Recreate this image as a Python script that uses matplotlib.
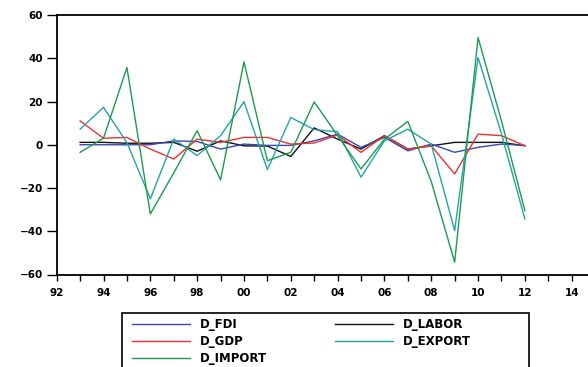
import matplotlib
matplotlib.use("Agg")
import matplotlib.pyplot as plt
from matplotlib.ticker import MultipleLocator, FuncFormatter
from matplotlib.patches import Rectangle

years = list(range(1993, 2013))
d_fdi = [0, 0, 0, 0, 1.8, 1.5, -2, 0.3, -0.3, -0.3, 1.8, 4.9, -1.2, 3.4, -2.8, 0.3, -3.5, -1.2, 0.3, -0.3]
d_labor = [1.1, 1.1, 0.7, 0.7, 1.1, -3.0, 1.8, -0.5, -0.6, -5.4, 7.8, 2.6, -2.0, 4.2, -2.0, -0.5, 1.1, 1.1, 1.1, -0.5]
d_gdp = [11, 3, 3.4, -2, -6.6, 2.6, 1.1, 3.4, 3.4, 0.3, 0.8, 4.5, -3.5, 4.2, -2, -0.5, -13.5, 4.9, 4.2, -0.5]
d_export = [7.2, 17.3, 1, -25, 2.6, -5, 4.2, 19.9, -11.5, 12.6, 7, 6, -15, 1.8, 7.2, 0.3, -39.7, 40.4, 5, -34.3]
d_import = [-3.5, 3, 35.7, -32, -13, 6.5, -16.2, 38.3, -7.4, -3.5, 19.8, 4.2, -11.2, 2.6, 10.8, -17, -54.3, 49.6, 11, -30.5]

series = [
    ("D_FDI", d_fdi, "#3848b0"),
    ("D_GDP", d_gdp, "#f03030"),
    ("D_IMPORT", d_import, "#1c9c4c"),
    ("D_LABOR", d_labor, "#101010"),
    ("D_EXPORT", d_export, "#22a4a8"),
]

W, H = 588, 367
fig = plt.figure(figsize=(W / 100, H / 100), dpi=100)
left_px, top_px, bottom_px = 56.7, 15, 274.5
right_px = 600
ax = fig.add_axes([left_px / W, 1 - bottom_px / H, (right_px - left_px) / W, (bottom_px - top_px) / H])

draw_order = ["D_LABOR", "D_FDI", "D_GDP", "D_EXPORT", "D_IMPORT"]
handles = {}
for name, vals, col in series:
    ln, = ax.plot(years, vals, color=col, lw=1.0, label=name,
                  zorder=3 + draw_order.index(name))
    handles[name] = ln

year_px = (571.7 - 56.7) / 22
ax.set_xlim(1992, 1992 + (right_px - left_px) / year_px)
ax.set_ylim(-60, 60)

ax.xaxis.set_major_locator(MultipleLocator(2))
ax.xaxis.set_minor_locator(MultipleLocator(1))
ax.xaxis.set_major_formatter(FuncFormatter(lambda v, p: f"{int(round(v)) % 100:02d}"))
ax.yaxis.set_major_locator(MultipleLocator(20))

ax.spines["right"].set_visible(False)
for s in ["left", "bottom", "top"]:
    ax.spines[s].set_linewidth(1.3)

ax.tick_params(axis="x", which="both", direction="out", length=4, width=1, pad=6,
               labelsize=7.5)
ax.tick_params(axis="y", direction="out", length=7, width=1, pad=3, labelsize=7.5)
for lab in ax.get_xticklabels() + ax.get_yticklabels():
    lab.set_fontweight("bold")

# legend
fs = 8.5
fs_px = fs * 100 / 72
renderer = fig.canvas.get_renderer()
t = fig.text(0, 0, "D_IMPORT", fontsize=fs, fontweight="bold")
tw = t.get_window_extent(renderer).width
t.remove()
handle_px, pad_px = 58, 10
col2_start = 335
colspace_px = col2_start - (132 + handle_px + pad_px + tw)

order = ["D_FDI", "D_GDP", "D_IMPORT", "D_LABOR", "D_EXPORT"]
leg = fig.legend([handles[n] for n in order], order, loc="upper left",
                 bbox_to_anchor=(127.3 / W, 1 - 313 / H),
                 ncol=2, frameon=False,
                 handlelength=handle_px / fs_px, handletextpad=pad_px / fs_px,
                 columnspacing=colspace_px / fs_px,
                 labelspacing=0.35, borderaxespad=0, borderpad=0.4,
                 prop={"weight": "bold", "size": fs})
fig.add_artist(Rectangle((121.7 / W, -0.05), (529 - 121.7) / W, 1 - 313 / H + 0.05,
                         transform=fig.transFigure, fill=False, edgecolor="black",
                         lw=1.2))

fig.savefig("out.png", dpi=100)
